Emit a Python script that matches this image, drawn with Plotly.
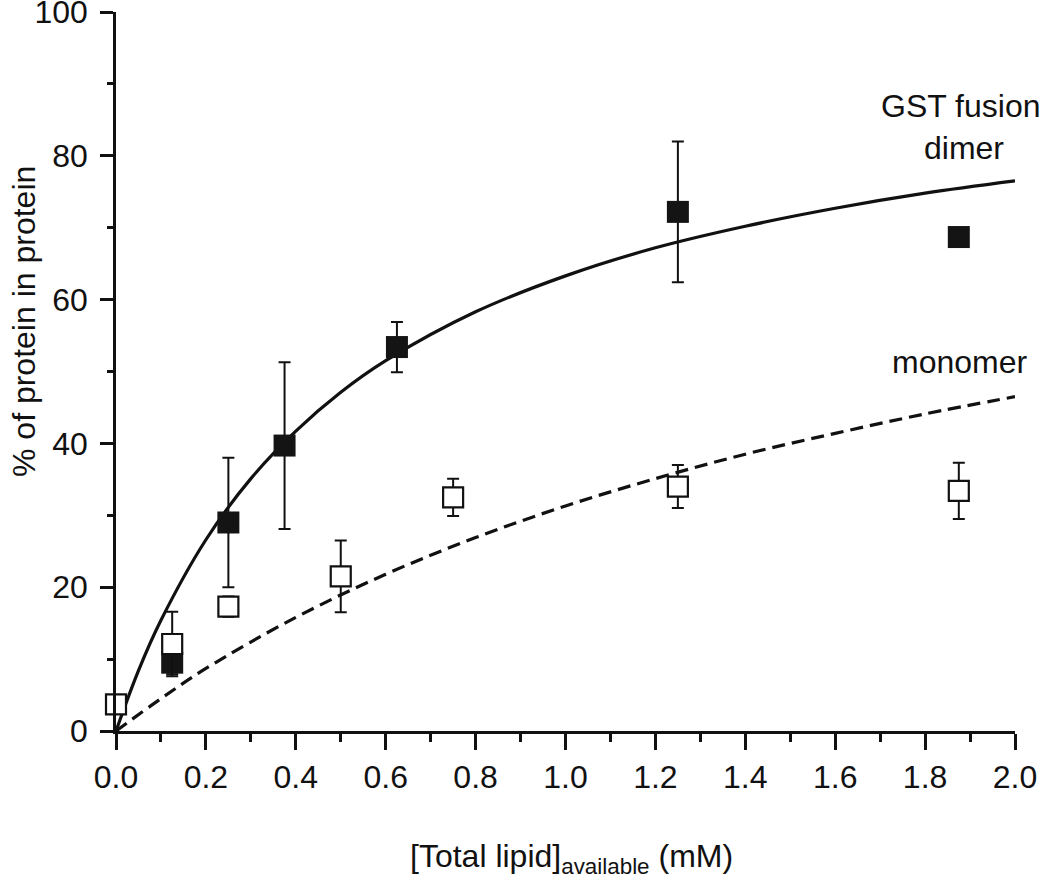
import plotly.graph_objects as go

# Data
lipid_dimer = [0.125, 0.25, 0.375, 0.625, 1.25, 1.875]
pct_dimer = [9.5, 29.0, 39.7, 53.4, 72.2, 68.7]
err_dimer = [1.6, 9.0, 11.6, 3.5, 9.8, 0.0]

lipid_mono = [0.0, 0.125, 0.25, 0.5, 0.75, 1.25, 1.875]
pct_mono = [3.7, 12.1, 17.3, 21.5, 32.5, 34.0, 33.4]
err_mono = [0.0, 4.5, 1.4, 5.0, 2.6, 3.0, 3.9]

# Fitted curves
fit_x_dimer = [0.0, 0.05, 0.1, 0.2, 0.3, 0.4, 0.5, 0.6, 0.8, 1.0, 1.2, 1.4, 1.6, 1.8, 2.0]
fit_y_dimer = [0.0, 8.4, 15.4, 26.6, 35.1, 41.7, 47.1, 51.5, 58.3, 63.3, 67.2, 70.2, 72.7, 74.8, 76.5]

fit_x_mono = [0.0, 0.1, 0.2, 0.4, 0.6, 0.8, 1.0, 1.2, 1.4, 1.6, 1.8, 2.0]
fit_y_mono = [0.0, 4.5, 8.7, 15.8, 21.8, 26.9, 31.3, 35.1, 38.5, 41.4, 44.1, 46.5]

x_ticks = [0.0, 0.2, 0.4, 0.6, 0.8, 1.0, 1.2, 1.4, 1.6, 1.8, 2.0]
y_ticks = [0, 20, 40, 60, 80, 100]

FONT = "Liberation Sans, Arial, sans-serif"
INK = "#111111"
FS = 32

fig = go.Figure()

fig.add_trace(go.Scatter(
    x=fit_x_dimer, y=fit_y_dimer, mode="lines", line_shape="spline",
    line=dict(color=INK, width=3.2), showlegend=False, hoverinfo="skip"))
fig.add_trace(go.Scatter(
    x=fit_x_mono, y=fit_y_mono, mode="lines", line_shape="spline",
    line=dict(color=INK, width=3.2, dash="13px,7px"), showlegend=False, hoverinfo="skip"))

fig.add_trace(go.Scatter(
    x=lipid_dimer, y=pct_dimer, mode="markers", name="GST fusion dimer",
    marker=dict(symbol="square", size=22, color="#141414", line=dict(width=0)),
    error_y=dict(type="data", array=err_dimer, color=INK, thickness=2, width=6),
    cliponaxis=False, showlegend=False))
fig.add_trace(go.Scatter(
    x=lipid_mono, y=pct_mono, mode="markers", name="monomer",
    marker=dict(symbol="square", size=20, color="white", line=dict(color=INK, width=2.2)),
    error_y=dict(type="data", array=err_mono, color=INK, thickness=2, width=6),
    cliponaxis=False, showlegend=False))

pl, pr, pt, pb = 116, 1015, 12, 731


def px2paper(px, py):
    return (px - pl) / (pr - pl), (pb - py) / (pb - pt)


labels = [
    ("GST fusion", 960, 106, 0),
    ("dimer", 964, 148, 0),
    ("monomer", 960, 362, 0),
    ("[Total lipid]<sub>available</sub> (mM)", 571, 858, 0),
    ("% of protein in protein", 24, 322, -90),
]
annotations = []
for text, px, py, ang in labels:
    xp, yp = px2paper(px, py)
    annotations.append(dict(
        x=xp, y=yp, xref="paper", yref="paper", text=text, showarrow=False,
        xanchor="center", yanchor="middle", textangle=ang,
        font=dict(size=FS, family=FONT, color=INK)))

fig.update_layout(
    width=1050, height=878,
    margin=dict(l=pl, r=1050 - pr, t=pt, b=878 - pb, autoexpand=False),
    paper_bgcolor="white", plot_bgcolor="white",
    font=dict(family=FONT, color=INK, size=FS),
    xaxis=dict(
        range=[0, 2.0], tickvals=x_ticks, ticktext=[f"{v:.1f}" for v in x_ticks],
        showgrid=False, zeroline=False, showline=True, linecolor=INK, linewidth=2.5,
        ticks="outside", ticklen=16, tickwidth=2.5, tickcolor=INK,
        tickfont=dict(size=FS, family=FONT, color=INK), automargin=False,
        ticklabeloverflow="allow",
        minor=dict(dtick=0.1, tick0=0, ticklen=8, tickwidth=2.5, tickcolor=INK, showgrid=False),
    ),
    yaxis=dict(
        range=[0, 100], tickvals=y_ticks, ticktext=[str(v) for v in y_ticks],
        showgrid=False, zeroline=False, showline=True, linecolor=INK, linewidth=2.5,
        ticks="outside", ticklen=13, tickwidth=2.5, tickcolor=INK,
        tickfont=dict(size=FS, family=FONT, color=INK), automargin=False,
        ticklabelstandoff=6, ticklabeloverflow="allow",
        minor=dict(dtick=10, tick0=0, ticklen=6, tickwidth=2.5, tickcolor=INK, showgrid=False),
    ),
    annotations=annotations,
)

fig.write_html(
    "out.html",
    config={"displayModeBar": False},
    post_script="document.body.style.margin='0';document.body.style.overflow='hidden';",
)
